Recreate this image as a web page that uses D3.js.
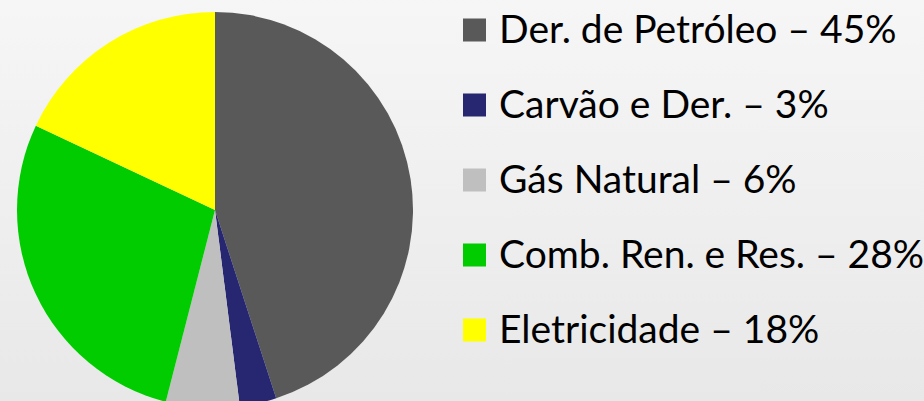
<!DOCTYPE html>
<html>
<head>
<meta charset="utf-8">
<script src="https://cdn.jsdelivr.net/npm/d3@7"></script>
<style>
  html, body { margin: 0; padding: 0; }
  #canvas { width: 924px; height: 401px; }
</style>
</head>
<body>
<div id="canvas"></div>
<script>
"use strict"

// fontes de energia e suas parcelas (%)
let categories = ["Der. de Petróleo", "Carvão e Der.", "Gás Natural", "Comb. Ren. e Res.", "Eletricidade"];
let shares = [45, 3, 6, 28, 18];
let colors = ["#595959", "#262671", "#bfbfbf", "#00cc00", "#ffff00"];

let drawing = d3.select("#canvas")
    .append("svg")
    .attr("width", 924)
    .attr("height", 401);

// fundo com leve degradê
let grad = drawing.append("defs").append("linearGradient")
    .attr("id", "bg")
    .attr("x1", 0).attr("y1", 0)
    .attr("x2", 0).attr("y2", 1);
grad.append("stop").attr("offset", "0%").attr("stop-color", "#f6f6f6");
grad.append("stop").attr("offset", "100%").attr("stop-color", "#e8e8e8");

drawing.append("rect")
    .attr("width", 924)
    .attr("height", 401)
    .attr("fill", "url(#bg)");

let data = categories.map((c, i) => ({ name: c, value: shares[i], color: colors[i] }));

let pie = d3.pie()
    .sort(null)
    .value(d => d.value);

let arc = d3.arc()
    .innerRadius(0)
    .outerRadius(198);

let pieGroup = drawing.append("g")
    .attr("transform", "translate(215,210)");

pieGroup.selectAll("path")
    .data(pie(data))
    .join("path")
    .attr("d", arc)
    .attr("fill", d => d.data.color);

// legenda
let legendY = d3.scalePoint()
    .domain(categories)
    .range([30, 330]);

let legend = drawing.append("g")
    .selectAll("g")
    .data(data)
    .join("g")
    .attr("transform", d => "translate(463," + legendY(d.name) + ")");

legend.append("rect")
    .attr("x", 0)
    .attr("y", -11.5)
    .attr("width", 23)
    .attr("height", 23)
    .attr("fill", d => d.color);

legend.append("text")
    .attr("x", 36)
    .attr("y", 0)
    .attr("dy", "0.34em")
    .attr("font-family", "Lato, 'Open Sans', sans-serif")
    .attr("font-size", 39)
    .attr("fill", "#000")
    .text(d => d.name + " – " + d.value + "%");
</script>
</body>
</html>
